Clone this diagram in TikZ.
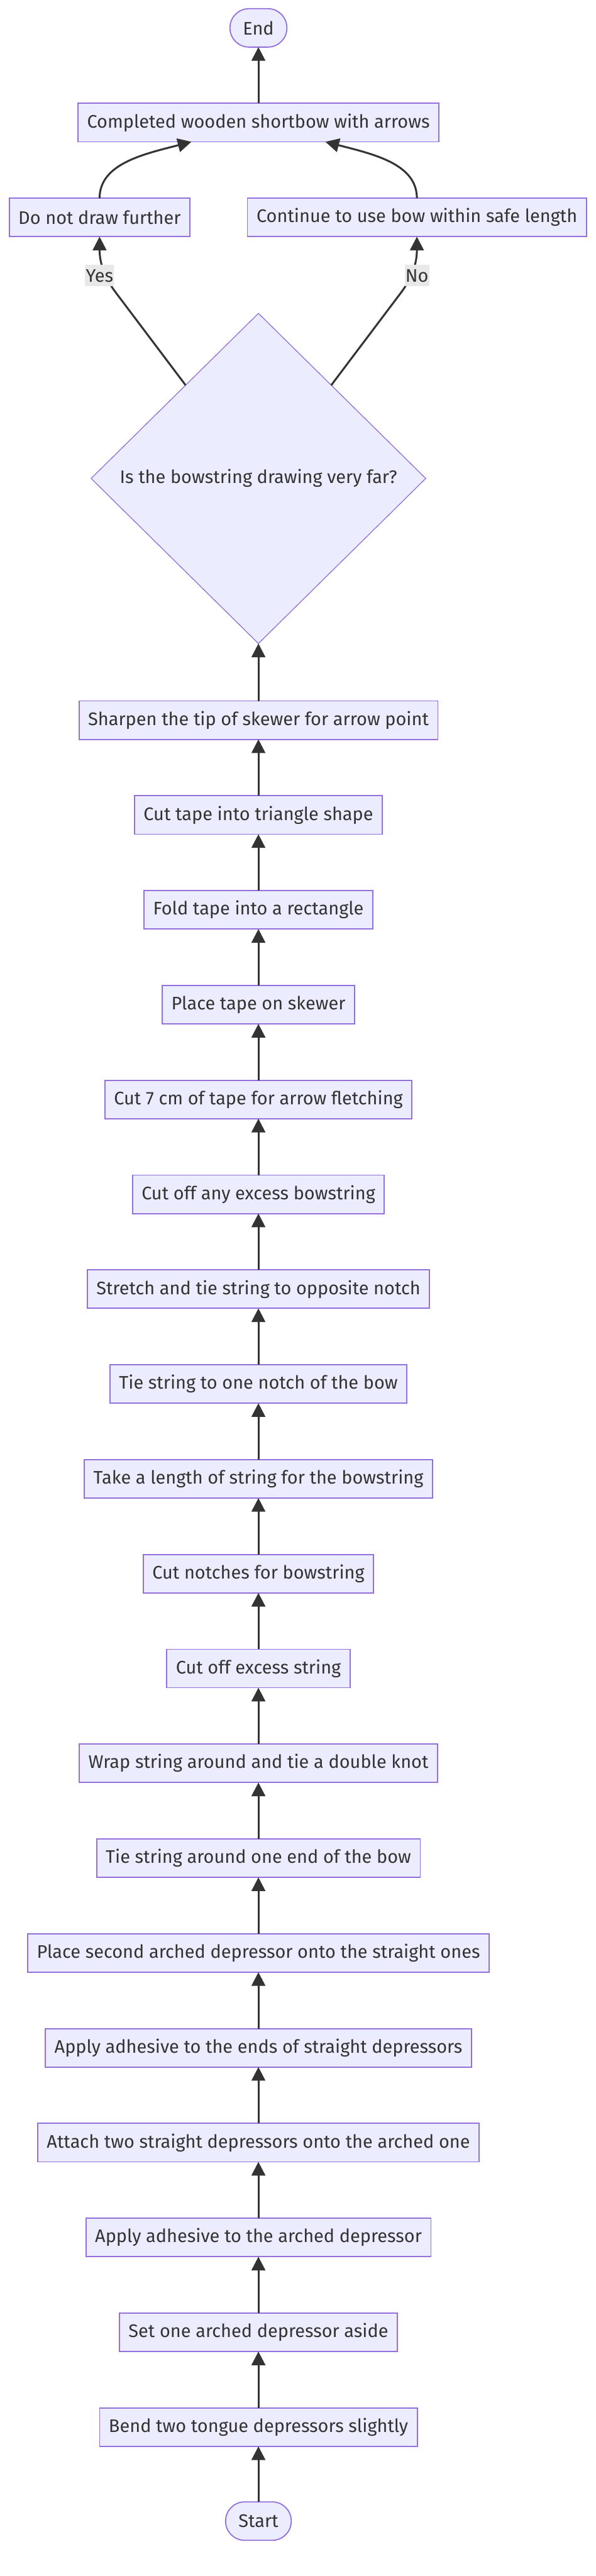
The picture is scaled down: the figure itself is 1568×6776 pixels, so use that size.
\documentclass[tikz,border=0pt]{standalone}
\usepackage{fontspec}
\setmainfont{Fira Sans}
\usetikzlibrary{arrows.meta, positioning, shapes.geometric}
\definecolor{mmfill}{HTML}{ECECFF}
\definecolor{mmborder}{HTML}{9370DB}
\definecolor{mmline}{HTML}{333333}
\definecolor{mmlabel}{HTML}{E8E8E8}

\begin{document}
\begin{tikzpicture}[
  x=0.01cm, y=-0.01cm,
  >={Triangle[length=0.36cm, width=0.36cm]},
  stepbox/.style={draw=mmborder, fill=mmfill, line width=0.85pt, minimum height=1.01cm, inner xsep=0.24cm, outer sep=0pt, text=mmline, font=\fontsize{13.6}{15}\selectfont},
  term/.style={stepbox, rounded corners=0.5cm, inner xsep=0.34cm},
  gate/.style={draw=mmborder, fill=mmfill, line width=0.6pt, diamond, minimum width=8.8cm, minimum height=8.68cm, outer sep=0pt, text=mmline, font=\fontsize{13.6}{15}\selectfont},
  lbl/.style={fill=mmlabel, inner xsep=0.02cm, minimum height=0.53cm, text=mmline, font=\fontsize{13.6}{15}\selectfont},
  flow/.style={draw=mmline, line width=1.42pt, ->}
]
\fill[white] (0,0) rectangle (1568,6776);
\useasboundingbox (0,0) rectangle (1568,6776);

% Steps, bottom to top
\node[term] (start) at (680,6631.5) {Start};
\node[stepbox, above=1.46cm of start] (bend) {Bend two tongue depressors slightly};
\node[stepbox, above=1.483cm of bend] (aside) {Set one arched depressor aside};
\node[stepbox, above=1.483cm of aside] (gluearch) {Apply adhesive to the arched depressor};
\node[stepbox, above=1.483cm of gluearch] (attach) {Attach two straight depressors onto the arched one};
\node[stepbox, above=1.483cm of attach] (glueends) {Apply adhesive to the ends of straight depressors};
\node[stepbox, above=1.483cm of glueends] (second) {Place second arched depressor onto the straight ones};
\node[stepbox, above=1.483cm of second] (tieend) {Tie string around one end of the bow};
\node[stepbox, above=1.483cm of tieend] (wrap) {Wrap string around and tie a double knot};
\node[stepbox, above=1.483cm of wrap] (trim) {Cut off excess string};
\node[stepbox, above=1.483cm of trim] (notches) {Cut notches for bowstring};
\node[stepbox, above=1.483cm of notches] (length) {Take a length of string for the bowstring};
\node[stepbox, above=1.483cm of length] (tienotch) {Tie string to one notch of the bow};
\node[stepbox, above=1.483cm of tienotch] (stretch) {Stretch and tie string to opposite notch};
\node[stepbox, above=1.483cm of stretch] (trimbow) {Cut off any excess bowstring};
\node[stepbox, above=1.483cm of trimbow] (tape) {Cut 7 cm of tape for arrow fletching};
\node[stepbox, above=1.483cm of tape] (place) {Place tape on skewer};
\node[stepbox, above=1.483cm of place] (fold) {Fold tape into a rectangle};
\node[stepbox, above=1.483cm of fold] (triangle) {Cut tape into triangle shape};
\node[stepbox, above=1.483cm of triangle] (sharpen) {Sharpen the tip of skewer for arrow point};

% Decision
\node[gate, above=1.51cm of sharpen] (gate) {Is the bowstring drawing very far?};

% Outcomes
\node[stepbox] (stop) at (262,572) {Do not draw further};
\node[stepbox] (keep) at (1097,572) {Continue to use bow within safe length};
\node[stepbox] (done) at (680,322.5) {Completed wooden shortbow with arrows};
\node[term, above=1.48cm of done] (end) {End};

% Edges
\draw[flow] (start) -- (bend);
\draw[flow] (bend) -- (aside);
\draw[flow] (aside) -- (gluearch);
\draw[flow] (gluearch) -- (attach);
\draw[flow] (attach) -- (glueends);
\draw[flow] (glueends) -- (second);
\draw[flow] (second) -- (tieend);
\draw[flow] (tieend) -- (wrap);
\draw[flow] (wrap) -- (trim);
\draw[flow] (trim) -- (notches);
\draw[flow] (notches) -- (length);
\draw[flow] (length) -- (tienotch);
\draw[flow] (tienotch) -- (stretch);
\draw[flow] (stretch) -- (trimbow);
\draw[flow] (trimbow) -- (tape);
\draw[flow] (tape) -- (place);
\draw[flow] (place) -- (fold);
\draw[flow] (fold) -- (triangle);
\draw[flow] (triangle) -- (sharpen);
\draw[flow] (sharpen) -- (gate);
\draw[flow] (gate.128) -- (305,770) .. controls (268,721) and (262,680) .. (stop.south);
\draw[flow] (gate.52) -- (1055,770) .. controls (1092,721) and (1097,680) .. (keep.south);
\draw[flow] (stop.north) .. controls (262,430) and (380,405) .. (done.196);
\draw[flow] (keep.north) .. controls (1097,430) and (980,405) .. (done.-16);
\draw[flow] (done) -- (end);

% Branch labels
\node[lbl] (yes) at (262,725) {Yes};
\node[lbl] (no) at (1097,725) {No};

\end{tikzpicture}
\end{document}
